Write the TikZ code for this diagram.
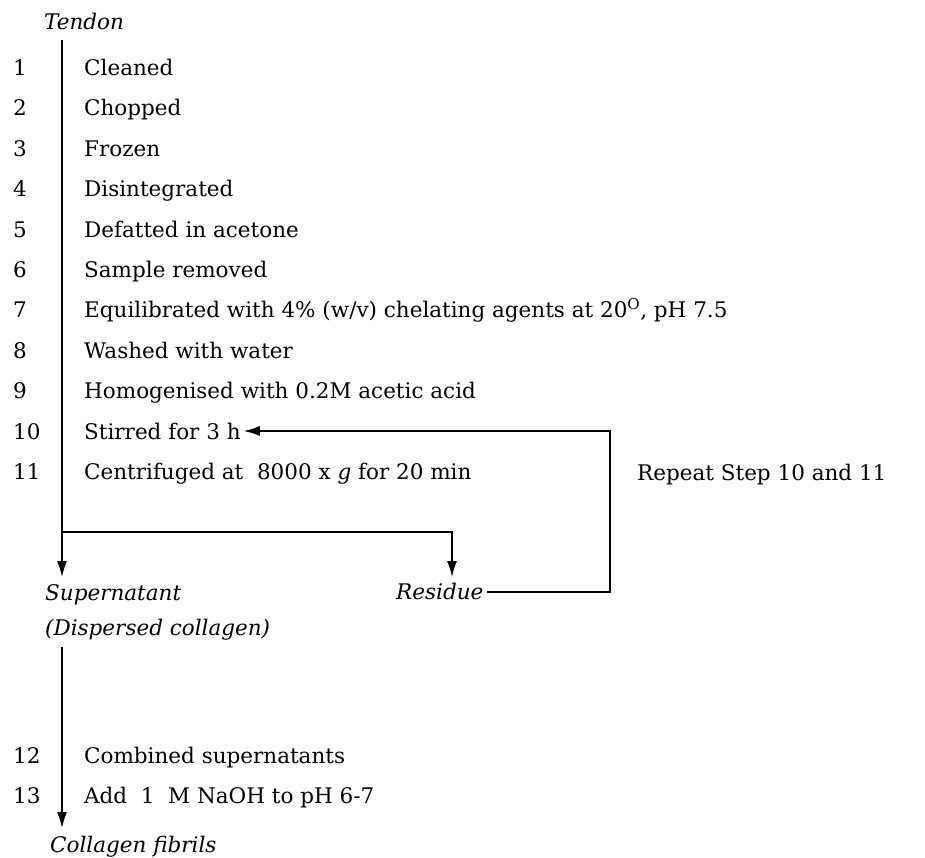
\documentclass[tikz,border=0pt]{standalone}
\usepackage{fontspec}
\setmainfont{DejaVu Serif}
\usetikzlibrary{arrows.meta}
\begin{document}
\begin{tikzpicture}[x=1pt,y=-1pt,
  txt/.style={anchor=base west,inner sep=0pt,font=\fontsize{21.5}{24}\selectfont},
  itl/.style={anchor=base west,inner sep=0pt,font=\fontsize{21.5}{24}\selectfont\itshape},
  ln/.style={line width=1.4pt},
  arr/.style={ln,-{Latex[length=16pt,width=10pt]}}]
\useasboundingbox (0,0) rectangle (925,857);
\node[itl] (tendon) at (44,29) {Tendon};
\foreach \n/\y/\t in {1/67/{Cleaned},2/107/{Chopped},3/148/{Frozen},4/188/{Disintegrated},
  5/229/{Defatted in acetone},6/269/{Sample removed},
  7/309/{Equilibrated with 4\% (w/v) chelating agents at 20\textsuperscript{O}, pH 7.5},
  8/350/{Washed with water},9/390/{Homogenised with 0.2M acetic acid},
  10/431/{Stirred for 3 h},11/471/{Centrifuged at \ 8000 x \textit{g} for 20 min},
  12/755/{Combined supernatants},13/795/{Add \ 1 \ M NaOH to pH 6-7}}{
  \node[txt] (n\n) at (13,\y+8) {\n};
  \node[txt] (t\n) at (84,\y+8) {\t};
}
\node[txt] (rep) at (637,480) {Repeat Step 10 and 11};
\node[itl] (sup) at (45,600) {Supernatant};
\node[itl] (disp) at (45,635) {(Dispersed collagen)};
\node[itl] (res) at (396,599) {Residue};
\node[itl] (fib) at (50,852) {Collagen fibrils};
\coordinate (top) at (62,40);
\coordinate (j) at (62,532);
\coordinate (ra) at (452,532);
\coordinate (rt) at (452,577);
\coordinate (st) at (62,577);
\coordinate (rc) at (610,592);
\coordinate (b1) at (62,647);
\coordinate (b2) at (62,828);
\draw[arr] (top) -- (st);
\draw[arr] (j) -- (ra) -- (rt);
\draw[arr] (res.east |- rc) ++(3,0) -- (rc) |- ([xshift=3pt]t10.east);
\draw[arr] (b1) -- (b2);
\end{tikzpicture}
\end{document}
